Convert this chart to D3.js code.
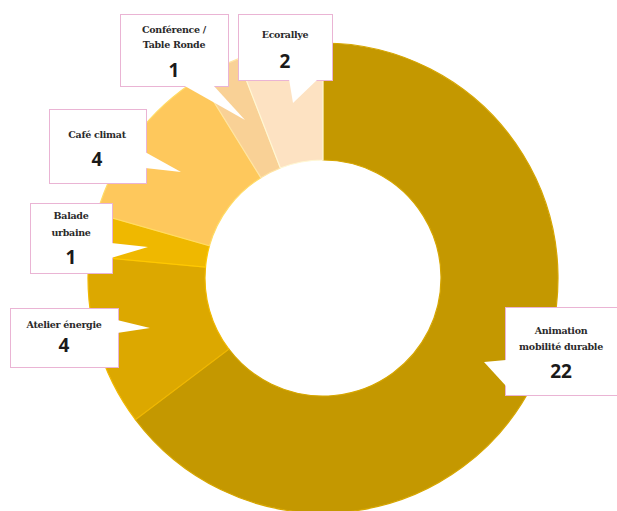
<!DOCTYPE html>
<html><head><meta charset="utf-8">
<script src="https://cdn.jsdelivr.net/npm/d3@7"></script>
<style>body{margin:0;background:#fff}svg{display:block}</style>
</head><body>
<svg id="c" width="617" height="511"></svg>
<script>
const categories = ["Animation mobilité durable","Atelier énergie","Balade urbaine","Café climat","Conférence / Table Ronde","Ecorallye"];
const values = [22,4,1,4,1,2];
const colors = ["#C49800","#DCA800","#EFB800","#FEC85C","#F9D196","#FDE2C2"];
const labelLines = [["Animation","mobilité durable"],["Atelier énergie"],["Balade","urbaine"],["Café climat"],["Conférence /","Table Ronde"],["Ecorallye"]];

const svg = d3.select("#c");
const cx = 323, cy = 278, R = 235, r = 118;
const g = svg.append("g").attr("transform",`translate(${cx},${cy})`);
const pie = d3.pie().sort(null).value(d=>d)(values);
const arc = d3.arc().innerRadius(r).outerRadius(R);
g.selectAll("path").data(pie).join("path")
  .attr("d",arc).attr("fill",(d,i)=>colors[i])
  .attr("stroke",(d,i)=>d3.color(colors[i]).brighter(0.25)).attr("stroke-width",1.2);

// callouts: box [x,y,w,h], pointer polygon, text center, line ys, number y
const callouts = [
  {box:[505,307,120,88], ptr:[[506,360],[484,362],[506,386]], cx:561, ly:[334,350], ny:378},
  {box:[10,308,108,59], ptr:[[117,320],[150,328],[117,333]], cx:64, ly:[328], ny:352},
  {box:[30,203,82,70], ptr:[[111,243],[148,247],[111,258]], cx:71, ly:[219,236], ny:264},
  {box:[49,109,97,74], ptr:[[145,152],[181,172],[145,168]], cx:97, ly:[138], ny:166},
  {box:[120,14,108,72], ptr:[[183,85],[245,120],[213,85]], cx:174, ly:[33,48], ny:77},
  {box:[238,14,94,66], ptr:[[289,79],[293,103],[318,79]], cx:285, ly:[38], ny:68}
];
const lab = svg.append("g");
callouts.forEach((c,i)=>{
  const [x,y,w,h] = c.box;
  lab.append("rect").attr("x",x+0.5).attr("y",y+0.5).attr("width",w).attr("height",h)
    .attr("fill","#fff").attr("stroke","#EAB4D4").attr("stroke-width",1);
  lab.append("polygon").attr("points",c.ptr.map(p=>p.join(",")).join(" ")).attr("fill","#fff");
  labelLines[i].forEach((t,j)=>{
    lab.append("text").attr("x",c.cx).attr("y",c.ly[j]).attr("text-anchor","middle")
      .attr("font-family","DejaVu Serif").attr("font-weight","bold").attr("font-size",9.5)
      .attr("fill","#2a2a2a").attr("letter-spacing",-0.3).text(t);
  });
  lab.append("text").attr("x",c.cx).attr("y",c.ny).attr("text-anchor","middle")
    .attr("font-family","Open Sans, sans-serif").attr("font-weight","bold").attr("font-size",19)
    .attr("fill","#1a1a1a").text(values[i]);
});
</script>
</body></html>
